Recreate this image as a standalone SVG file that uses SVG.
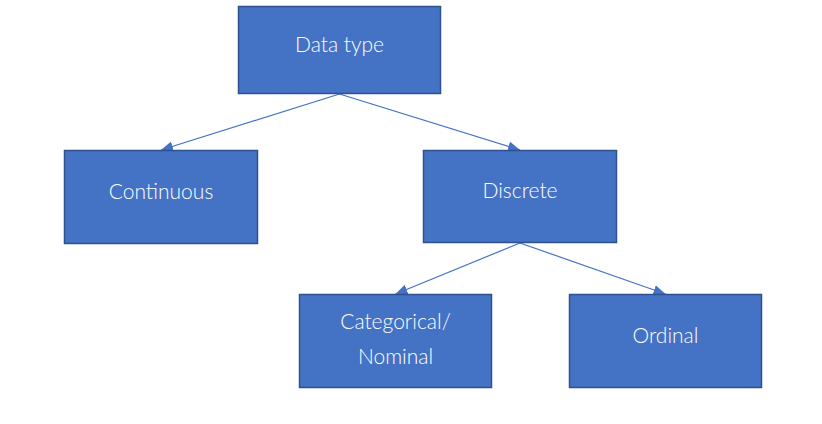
<svg xmlns="http://www.w3.org/2000/svg" width="822" height="424" viewBox="0 0 822 424">
  <style>
    .box { fill: #4472C4; stroke: #2F528F; stroke-width: 1.5; }
    .lbl { fill: #FFFFFF; font-family: "Lato", "Open Sans", "Liberation Sans", sans-serif; font-weight: 300; font-size: 21px; text-anchor: middle; }
    .conn { stroke: #4472C4; stroke-width: 1.2; fill: none; marker-end: url(#arr); }
  </style>
  <defs>
    <marker id="arr" viewBox="0 0 12 10" refX="12" refY="5" markerWidth="12" markerHeight="10" markerUnits="userSpaceOnUse" orient="auto">
      <path d="M0,0 L12,5 L0,10 z" fill="#4472C4"/>
    </marker>
  </defs>
  <rect width="822" height="424" fill="#FFFFFF"/>
  <g id="connectors">
    <line class="conn" x1="339.5" y1="94" x2="161" y2="150"/>
    <line class="conn" x1="339.5" y1="94" x2="520" y2="150"/>
    <line class="conn" x1="520" y1="243" x2="395.5" y2="294"/>
    <line class="conn" x1="520" y1="243" x2="665.5" y2="294"/>
  </g>
  <g id="node-datatype">
    <rect class="box" x="238.5" y="6.5" width="202" height="87"/>
    <text class="lbl" x="339.5" y="52">Data type</text>
  </g>
  <g id="node-continuous">
    <rect class="box" x="64.5" y="150.5" width="193" height="93"/>
    <text class="lbl" x="161" y="199">Continuous</text>
  </g>
  <g id="node-discrete">
    <rect class="box" x="423.5" y="150.5" width="193" height="92"/>
    <text class="lbl" x="520" y="198">Discrete</text>
  </g>
  <g id="node-categorical">
    <rect class="box" x="299.5" y="294.5" width="192" height="93"/>
    <text class="lbl" x="395.5" y="329">Categorical/</text>
    <text class="lbl" x="395.5" y="364">Nominal</text>
  </g>
  <g id="node-ordinal">
    <rect class="box" x="569.5" y="294.5" width="192" height="93"/>
    <text class="lbl" x="665.5" y="343">Ordinal</text>
  </g>
</svg>
